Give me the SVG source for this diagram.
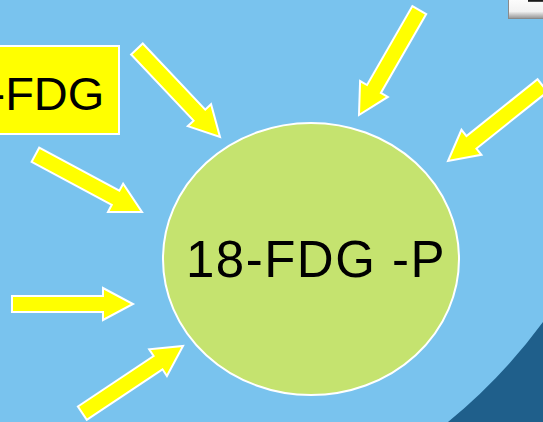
<svg xmlns="http://www.w3.org/2000/svg" xmlns:xlink="http://www.w3.org/1999/xlink" width="543" height="422" viewBox="0 0 543 422">
  <style>
    .label { font-family: "Liberation Sans", Arial, sans-serif; fill: #000000; }
    .arrow { fill: #ffff00; stroke: #ffffff; stroke-width: 2; stroke-linejoin: miter; }
  </style>
  <defs>
    <!-- block arrow, tip at origin, pointing along +x -->
    <polygon id="block-arrow" points="-121,-8 -30,-8 -30,-16 0,0 -30,16 -30,8 -121,8"/>
    <linearGradient id="btn-shade" x1="0" y1="0" x2="0" y2="1">
      <stop offset="0" stop-color="#ffffff"/>
      <stop offset="0.7" stop-color="#f2f2f2"/>
      <stop offset="1" stop-color="#9a9a9a"/>
    </linearGradient>
  </defs>

  <!-- background -->
  <rect x="0" y="0" width="543" height="422" fill="#79c3ee"/>
  <path d="M 543 322 A 549 549 0 0 1 448 422 L 543 422 Z" fill="#1f5f8b"/>

  <!-- corner button -->
  <g id="corner-button">
    <rect x="508" y="-4" width="40" height="23" fill="#8a8a8a"/>
    <rect x="509" y="-4" width="40" height="22" fill="url(#btn-shade)"/>
    <rect x="528" y="0" width="15" height="1.8" fill="#1a1a1a"/>
  </g>

  <!-- source label box -->
  <g id="fdg-box">
    <rect x="-5" y="46" width="124" height="88" fill="#ffff00" stroke="#ffffff" stroke-width="2"/>
    <text class="label" x="-10.5" y="110" font-size="47">-FDG</text>
  </g>

  <!-- phosphorylated product -->
  <g id="fdg-p">
    <ellipse cx="311" cy="259" rx="148" ry="136" fill="#c5e36f" stroke="#ffffff" stroke-width="2"/>
    <text class="label" x="186" y="277" font-size="51" letter-spacing="1.5">18-FDG -P</text>
  </g>

  <!-- arrows converging on the product -->
  <g id="connectors" class="arrow">
    <use xlink:href="#block-arrow" href="#block-arrow" transform="translate(220 137) rotate(46.65)"/>
    <use xlink:href="#block-arrow" href="#block-arrow" transform="translate(142 212) rotate(28.25)"/>
    <use xlink:href="#block-arrow" href="#block-arrow" transform="translate(133 304)"/>
    <use xlink:href="#block-arrow" href="#block-arrow" transform="translate(183 346) rotate(-33.7)"/>
    <use xlink:href="#block-arrow" href="#block-arrow" transform="translate(359 115) rotate(119.9)"/>
    <use xlink:href="#block-arrow" href="#block-arrow" transform="translate(448 161) rotate(141.4)"/>
  </g>
</svg>
